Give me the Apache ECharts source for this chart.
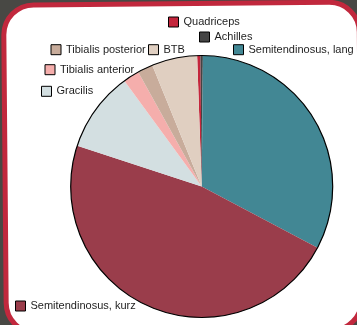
<!DOCTYPE html>
<html>
<head>
<meta charset="utf-8">
<script src="https://cdn.jsdelivr.net/npm/echarts@6/dist/echarts.min.js"></script>
<style>
  html, body { margin: 0; padding: 0; background: #484844; }
  #chart { width: 357px; height: 325px; }
</style>
</head>
<body>
<div id="chart"></div>
<script>
// Graft choices, share of cases in percent
const categories = ['Quadriceps', 'Achilles', 'Semitendinosus, lang', 'Semitendinosus, kurz', 'Gracilis', 'Tibialis anterior', 'Tibialis posterior', 'BTB'];
const shares = [0.4, 0.3, 32.6, 47.3, 9.9, 2.0, 1.9, 5.6];
const colors = ['#c4263c', '#444444', '#428794', '#9a3d4b', '#d3dfe1', '#f5aeac', '#c8ac9b', '#e0cfc1'];

// where each key entry sits: [left edge of swatch, vertical centre]
const keyPlacement = {
  'Quadriceps': [168, 23],
  'Achilles': [199, 38],
  'Semitendinosus, lang': [233, 50.7],
  'Tibialis posterior': [50.5, 50.7],
  'BTB': [148, 50.7],
  'Tibialis anterior': [44.5, 70.7],
  'Gracilis': [41, 92.3],
  'Semitendinosus, kurz': [15, 307]
};

const chart = echarts.init(document.getElementById('chart'), null, { renderer: 'canvas' });

const legends = categories.map(name => ({
  data: [name],
  left: keyPlacement[name][0],
  top: keyPlacement[name][1] - 6.5,
  orient: 'horizontal',
  padding: 0,
  itemGap: 0,
  itemWidth: 10,
  itemHeight: 10,
  icon: 'rect',
  selectedMode: false,
  itemStyle: { borderColor: '#000', borderWidth: 1 },
  textStyle: { fontSize: 11, color: '#1e1e1e', fontFamily: 'Liberation Sans, Arial, sans-serif' }
}));

const center = [201.7, 186.5];
const radius = 131;

// white card with a red rounded frame, tilted very slightly
const card = { x: 5, y: 3.6, width: 355.5, height: 328 };

chart.setOption({
  animation: false,
  backgroundColor: '#484844',
  color: colors,
  graphic: [{
    type: 'rect',
    z: 0,
    silent: true,
    x: card.x + card.width / 2,
    y: card.y + card.height / 2,
    rotation: 0.5 * Math.PI / 180,
    shape: { x: -card.width / 2, y: -card.height / 2, width: card.width, height: card.height, r: 30 },
    style: { fill: '#ffffff', stroke: '#c1283d', lineWidth: 5 }
  }],
  legend: legends,
  series: [
    {
      type: 'pie',
      center: center,
      radius: [0, radius],
      startAngle: 92,
      clockwise: true,
      avoidLabelOverlap: false,
      label: { show: false },
      labelLine: { show: false },
      emphasis: { disabled: true },
      itemStyle: { borderWidth: 0 },
      data: categories.map((name, i) => ({ name: name, value: shares[i] }))
    },
    {
      // thin outline round the whole pie
      type: 'pie',
      silent: true,
      center: center,
      radius: [0, radius],
      label: { show: false },
      labelLine: { show: false },
      emphasis: { disabled: true },
      z: 3,
      itemStyle: { color: 'rgba(0,0,0,0)', borderColor: '#000', borderWidth: 1.2 },
      data: [{ value: 1, name: '' }]
    }
  ]
});
</script>
</body>
</html>
